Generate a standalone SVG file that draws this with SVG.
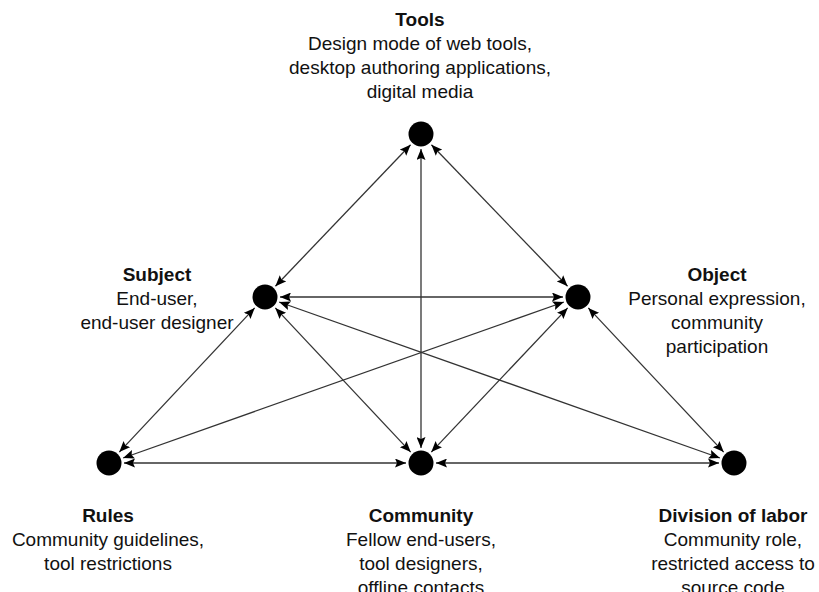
<svg xmlns="http://www.w3.org/2000/svg" width="819" height="592" viewBox="0 0 819 592">
<defs>
<marker id="ah" viewBox="0 0 11 9" refX="11" refY="4.5" markerWidth="11" markerHeight="9" markerUnits="userSpaceOnUse" orient="auto-start-reverse">
<path d="M0,0 L11,4.5 L0,9 L2,4.5 z" fill="#000"/>
</marker>
<style>
.bg{fill:#fff}
.n{fill:#000}
.e{stroke:#333;stroke-width:1.3;fill:none;marker-start:url(#ah);marker-end:url(#ah)}
text{font-family:"Liberation Sans",Arial,Helvetica,sans-serif;font-size:19px;fill:#111;text-anchor:middle}
.t{font-weight:bold}
</style>
</defs>
<rect class="bg" x="0" y="0" width="819" height="592"/>
<g id="connectors">
<line class="e" x1="410.6" y1="144.8" x2="275.4" y2="286.2"/>
<line class="e" x1="431.4" y1="144.8" x2="567.6" y2="286.2"/>
<line class="e" x1="421" y1="149" x2="421" y2="448"/>
<line class="e" x1="280" y1="297" x2="563" y2="297"/>
<line class="e" x1="254.7" y1="307.9" x2="119.3" y2="452.1"/>
<line class="e" x1="275.3" y1="307.9" x2="410.7" y2="452.1"/>
<line class="e" x1="279.1" y1="302" x2="719.9" y2="458"/>
<line class="e" x1="563.9" y1="302" x2="123.1" y2="458"/>
<line class="e" x1="567.7" y1="307.9" x2="431.3" y2="452.1"/>
<line class="e" x1="588.3" y1="307.9" x2="723.7" y2="452.1"/>
<line class="e" x1="124" y1="463" x2="406" y2="463"/>
<line class="e" x1="436" y1="463" x2="719" y2="463"/>
</g>
<g id="tools">
<circle class="n" cx="421" cy="134" r="12.5"/>
<text x="420" y="26" class="t">Tools</text>
<text x="420" y="50">Design mode of web tools,</text>
<text x="420" y="74">desktop authoring applications,</text>
<text x="420" y="98">digital media</text>
</g>
<g id="subject">
<circle class="n" cx="265" cy="297" r="12.5"/>
<text x="157" y="281" class="t">Subject</text>
<text x="157" y="305">End-user,</text>
<text x="157" y="329">end-user designer</text>
</g>
<g id="object">
<circle class="n" cx="578" cy="297" r="12.5"/>
<text x="717" y="281" class="t">Object</text>
<text x="717" y="305">Personal expression,</text>
<text x="717" y="329">community</text>
<text x="717" y="353">participation</text>
</g>
<g id="rules">
<circle class="n" cx="109" cy="463" r="12.5"/>
<text x="108" y="522" class="t">Rules</text>
<text x="108" y="546">Community guidelines,</text>
<text x="108" y="570">tool restrictions</text>
</g>
<g id="community">
<circle class="n" cx="421" cy="463" r="12.5"/>
<text x="421" y="522" class="t">Community</text>
<text x="421" y="546">Fellow end-users,</text>
<text x="421" y="570">tool designers,</text>
<text x="421" y="594">offline contacts</text>
</g>
<g id="division">
<circle class="n" cx="734" cy="463" r="12.5"/>
<text x="733" y="522" class="t">Division of labor</text>
<text x="733" y="546">Community role,</text>
<text x="733" y="570">restricted access to</text>
<text x="733" y="594">source code</text>
</g>
</svg>
